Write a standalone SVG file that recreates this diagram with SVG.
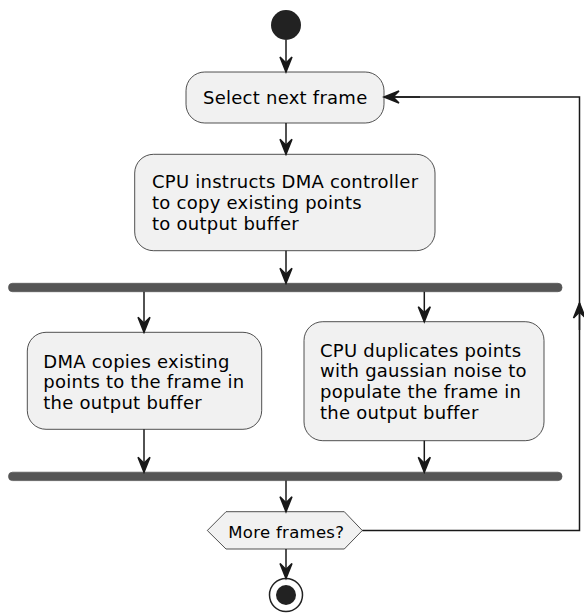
<svg xmlns="http://www.w3.org/2000/svg" width="584" height="613" viewBox="0 0 584 613">
<defs>
<style>
.act{fill:#F1F1F1;stroke:#181818;stroke-width:0.75}
.bar{fill:#555555;stroke:#555555;stroke-width:0.75}
.txt{font-family:"DejaVu Sans","Liberation Sans",sans-serif;font-size:18px;fill:#000000;letter-spacing:0.25px}
.small{font-size:16.5px;letter-spacing:0.3px}
.edge{fill:none;stroke:#181818;stroke-width:1.5}
</style>
<marker id="arr" viewBox="-1 -8 18 16" refX="15" refY="0" markerWidth="18" markerHeight="16" markerUnits="userSpaceOnUse" orient="auto">
<polygon points="0,-6 15,0 0,6 6,0" fill="#181818" stroke="#181818" stroke-width="1.5"/>
</marker>
</defs>
<rect width="584" height="613" fill="#FFFFFF"/>
<g id="start">
<circle cx="286" cy="25" r="15" fill="#222222"/>
</g>
<g id="select">
<rect class="act" x="186" y="72" width="198" height="51" rx="18.75" ry="18.75"/>
<text class="txt" x="203" y="104.3">Select next frame</text>
</g>
<g id="instruct">
<rect class="act" x="134.7" y="154.3" width="300.3" height="96.4" rx="18.75" ry="18.75"/>
<text class="txt" x="152" y="188.3">CPU instructs DMA controller</text>
<text class="txt" x="152" y="209.3">to copy existing points</text>
<text class="txt" x="152" y="230.4">to output buffer</text>
</g>
<g id="fork1">
<rect class="bar" x="8.5" y="283.3" width="553.5" height="8.4" rx="4" ry="4"/>
</g>
<g id="dma">
<rect class="act" x="27.3" y="332.3" width="234.4" height="97" rx="18.75" ry="18.75"/>
<text class="txt" x="43.3" y="367.5">DMA copies existing</text>
<text class="txt" x="43.3" y="388.3">points to the frame in</text>
<text class="txt" x="43.3" y="409.1">the output buffer</text>
</g>
<g id="cpudup">
<rect class="act" x="304" y="321.7" width="240" height="119" rx="18.75" ry="18.75"/>
<text class="txt" x="320" y="356.6">CPU duplicates points</text>
<text class="txt" x="320" y="377.4">with gaussian noise to</text>
<text class="txt" x="320" y="398.2">populate the frame in</text>
<text class="txt" x="320" y="419">the output buffer</text>
</g>
<g id="fork2">
<rect class="bar" x="8.5" y="472.2" width="553.5" height="8.4" rx="4" ry="4"/>
</g>
<g id="decision">
<polygon class="act" points="207.3,530.5 226,511.7 344.3,511.7 362.3,530.5 344.3,549 226,549"/>
<text class="txt small" x="228.3" y="537.5">More frames?</text>
</g>
<g id="end">
<circle cx="286" cy="595" r="16.5" fill="#FFFFFF" stroke="#222222" stroke-width="1.5"/>
<circle cx="286" cy="595" r="10" fill="#222222"/>
</g>
<g id="connectors">
<line class="edge" x1="286" y1="40" x2="286" y2="72" marker-end="url(#arr)"/>
<line class="edge" x1="286" y1="123" x2="286" y2="154.3" marker-end="url(#arr)"/>
<line class="edge" x1="286" y1="250.7" x2="286" y2="283.3" marker-end="url(#arr)"/>
<line class="edge" x1="144" y1="291.7" x2="144" y2="332.3" marker-end="url(#arr)"/>
<line class="edge" x1="424.3" y1="291.7" x2="424.3" y2="321.7" marker-end="url(#arr)"/>
<line class="edge" x1="144" y1="429.3" x2="144" y2="472.2" marker-end="url(#arr)"/>
<line class="edge" x1="424.3" y1="440.7" x2="424.3" y2="472.2" marker-end="url(#arr)"/>
<line class="edge" x1="286" y1="480.6" x2="286" y2="511.7" marker-end="url(#arr)"/>
<line class="edge" x1="286" y1="549" x2="286" y2="578.5" marker-end="url(#arr)"/>
<polyline class="edge" points="362.3,530.5 579.5,530.5 579.5,97 384,97" />
<line class="edge" x1="579.5" y1="330" x2="579.5" y2="303" marker-end="url(#arr)"/>
<line class="edge" x1="420" y1="97" x2="384" y2="97" marker-end="url(#arr)"/>
</g>
</svg>
